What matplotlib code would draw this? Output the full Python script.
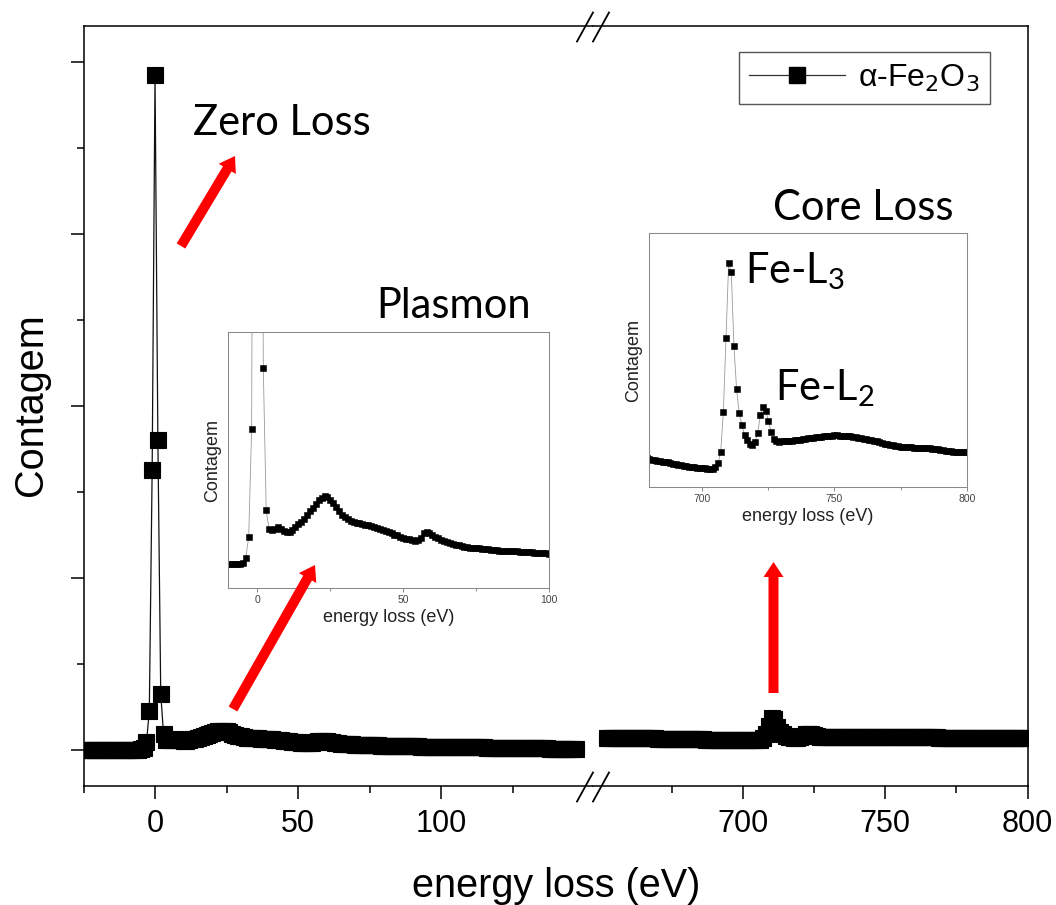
import numpy as np
import matplotlib
matplotlib.use('Agg')
import matplotlib.pyplot as plt
from matplotlib.lines import Line2D
from matplotlib.patches import FancyArrow

plt.rcParams['font.family'] = ['Liberation Sans', 'DejaVu Sans']
plt.rcParams['mathtext.fontset'] = 'custom'
plt.rcParams['mathtext.rm'] = 'Lato'
plt.rcParams['mathtext.it'] = 'Lato:italic'

# baixa perda (zero loss + plasmon), passo de 1 eV
energia_baixa = np.arange(-25, 148)
contagem_baixa = [
    0, 0, 0, 0, 0, 0, 0, 0, 0, 0,
    0, 0, 0, 0, 0, 0, 0, 0, 0,
    0.01, 0.06, 0.23, 0.91, 4.48, 32.6, 78.5, 36.0, 6.5, 1.80, 1.16,
    1.13, 1.18, 1.23, 1.19, 1.12, 1.08, 1.09, 1.15, 1.24, 1.33,
    1.42, 1.52, 1.64, 1.76, 1.88, 2.01, 2.12, 2.21, 2.26, 2.25,
    2.15, 2.04, 1.90, 1.77, 1.65, 1.57, 1.50, 1.44, 1.41, 1.38,
    1.36, 1.34, 1.32, 1.30, 1.28, 1.25, 1.22, 1.19, 1.15, 1.12,
    1.08, 1.04, 0.99, 0.96, 0.92, 0.89, 0.85, 0.83, 0.81, 0.79,
    0.80, 0.89, 1.04, 1.09, 1.05, 0.99, 0.92, 0.88, 0.82, 0.78,
    0.74, 0.71, 0.69, 0.66, 0.64, 0.61, 0.58, 0.57, 0.56, 0.55,
    0.54, 0.53, 0.52, 0.52, 0.50, 0.49, 0.48, 0.47, 0.46, 0.46,
    0.45, 0.45, 0.44, 0.44, 0.43, 0.42, 0.41, 0.41, 0.40, 0.40,
    0.39, 0.39, 0.38, 0.37, 0.37, 0.36,
    0.36, 0.35, 0.35, 0.34, 0.34, 0.33, 0.33, 0.32, 0.32, 0.31,
    0.31, 0.30, 0.30, 0.29, 0.29, 0.28, 0.28, 0.27, 0.27, 0.26,
    0.26, 0.25, 0.25, 0.24, 0.24, 0.23, 0.23, 0.22, 0.22, 0.21,
    0.21, 0.20, 0.20, 0.19, 0.19, 0.18, 0.18, 0.17, 0.17, 0.16,
    0.16, 0.15, 0.15, 0.14, 0.14, 0.13, 0.13,
]

# perda de caroco (bordas L3 e L2 do Fe), passo de 1 eV
energia_caroco = np.arange(652, 801)
contagem_caroco = [
    1.70, 1.69, 1.67, 1.66, 1.64, 1.62, 1.60, 1.58, 1.56, 1.54,
    1.52, 1.50, 1.48, 1.46, 1.44, 1.42, 1.40, 1.38, 1.36, 1.34,
    1.32, 1.30, 1.27, 1.24, 1.21, 1.19, 1.17, 1.15,
    1.12, 1.09, 1.07, 1.05, 1.03, 1.01, 1.00, 0.98, 0.95, 0.92,
    0.90, 0.88, 0.86, 0.84, 0.82, 0.80, 0.79, 0.78, 0.77, 0.76,
    0.75, 0.74, 0.73, 0.72, 0.73, 0.80, 0.95, 1.40, 2.95, 5.85,
    8.80, 8.45, 5.55, 3.85, 2.90, 2.45, 2.05, 1.85, 1.72, 1.68,
    1.78, 2.15, 2.85, 3.17, 3.00, 2.62, 2.18, 1.90, 1.80, 1.79,
    1.80, 1.81, 1.81, 1.82, 1.82, 1.84, 1.86, 1.87, 1.89, 1.91,
    1.93, 1.94, 1.95, 1.96, 1.98, 1.99, 2.00, 2.01, 2.02, 2.03,
    2.04, 2.04, 2.03, 2.03, 2.02, 2.01, 2.00, 1.98, 1.96, 1.94,
    1.92, 1.90, 1.88, 1.86, 1.84, 1.82, 1.80, 1.77, 1.74, 1.72,
    1.70, 1.68, 1.66, 1.64, 1.62, 1.60, 1.59, 1.58, 1.57, 1.57,
    1.56, 1.56, 1.55, 1.55, 1.54, 1.53, 1.53, 1.52, 1.51, 1.50,
    1.48, 1.46, 1.44, 1.42, 1.41, 1.40, 1.39, 1.39, 1.38, 1.38,
    1.37,
]

W, H = 1056, 905


def caixa(x0, y0, x1, y1):
    # converte pixels (origem no topo) para fracao da figura
    return [x0 / W, (H - y1) / H, (x1 - x0) / W, (y1 - y0) / H]


fig = plt.figure(figsize=(W / 100, H / 100), dpi=100)

ax_e = fig.add_axes(caixa(83.5, 26, 593, 786))
ax_d = fig.add_axes(caixa(593, 26, 1027.5, 786))

estilo = dict(color='#111111', lw=0.9, marker='s', ms=11, mfc='black', mec='black', mew=0.8)
ax_e.plot(energia_baixa, contagem_baixa, **estilo)
ax_d.plot(energia_caroco, contagem_caroco, **estilo)

ax_e.set_xlim(-25, 153.1)
ax_e.set_ylim(-4.19, 84.19)
ax_d.set_xlim(647.2, 800)
ax_d.set_ylim(-16.12, 263.57)

ax_e.set_xticks([0, 50, 100])
ax_e.set_xticks([-25, 25, 75, 125], minor=True)
ax_e.set_yticks([0, 20, 40, 60, 80])
ax_e.set_yticks([10, 30, 50, 70], minor=True)
ax_e.set_yticklabels([])
ax_d.set_xticks([700, 750, 800])
ax_d.set_xticks([675, 725, 775], minor=True)
ax_d.set_yticks([])

for ax in (ax_e, ax_d):
    for s in ax.spines.values():
        s.set_linewidth(1.1)
    ax.tick_params(which='major', direction='out', length=9.7, width=1.1, labelsize=22, pad=7)
    ax.tick_params(which='minor', direction='out', length=4.7, width=1.1)
    ax.tick_params(top=False, right=False)
ax_e.spines['right'].set_visible(False)
ax_d.spines['left'].set_visible(False)
ax_d.tick_params(left=False)

leg = ax_d.legend(
    handles=[Line2D([], [], color='#333333', lw=0.9, marker='s', ms=11.5, mfc='black', mec='black')],
    labels=['α-Fe$_2$O$_3$'], loc='upper left',
    bbox_to_anchor=(739 / W, 1 - 52 / H), bbox_transform=fig.transFigure,
    fontsize=23, handlelength=3.0, handletextpad=0.4, borderpad=0.32,
    borderaxespad=0, fancybox=False, framealpha=1)
leg.get_frame().set_edgecolor('#555555')
leg.get_frame().set_linewidth(1.0)
leg.get_texts()[0].set_math_fontfamily('dejavusans')

# insets: mesma contagem com escalas ampliadas
in_baixa = fig.add_axes(caixa(228.3, 331.7, 549, 588.3))
in_caroco = fig.add_axes(caixa(649.3, 232.7, 966.7, 487.3))

estilo_in = dict(color='#9a9a9a', lw=0.6, marker='s', ms=3.7, mfc='black', mec='black', mew=0.4)
in_baixa.plot(energia_baixa, contagem_baixa, **estilo_in)
in_caroco.plot(energia_caroco, contagem_caroco, **estilo_in)

in_baixa.set_xlim(-10, 100)
in_baixa.set_ylim(-0.79, 7.71)
in_baixa.set_xticks([0, 50, 100])
in_baixa.set_xticks([25, 75], minor=True)
in_caroco.set_xlim(680, 800)
in_caroco.set_ylim(0, 10)
in_caroco.set_xticks([700, 750, 800])
in_caroco.set_xticks([725, 775], minor=True)

for ax in (in_baixa, in_caroco):
    ax.set_yticks([])
    for s in ax.spines.values():
        s.set_color('#8a8a8a')
        s.set_linewidth(0.75)
    ax.tick_params(which='major', direction='out', length=3, width=0.7, color='#8a8a8a',
                   labelsize=7.5, labelcolor='#444444', pad=2)
    ax.tick_params(which='minor', direction='out', length=2, width=0.7, color='#8a8a8a')
    ax.set_xlabel('energy loss (eV)', fontsize=13, color='#222222', labelpad=3)
    ax.set_ylabel('Contagem', fontsize=13, color='#222222', labelpad=5)

# camada em pixels para setas, rotulos e marcas de quebra
ov = fig.add_axes([0, 0, 1, 1], zorder=10)
ov.set_xlim(0, W)
ov.set_ylim(H, 0)
ov.axis('off')
ov.patch.set_visible(False)

setas = [((181, 246), (235, 156)), ((233, 709), (315, 565)), ((773.5, 693), (773.5, 562))]
for (x0, y0), (x1, y1) in setas:
    ov.add_patch(FancyArrow(x0, y0, x1 - x0, y1 - y0, width=10, head_width=20, head_length=15,
                            length_includes_head=True, color='#ff0000', lw=0))

rotulo = dict(family='Lato', fontsize=30, ha='left', va='baseline', color='black')
ov.text(193, 135, 'Zero Loss', **rotulo)
ov.text(376, 318, 'Plasmon', **rotulo)
ov.text(773, 220, 'Core Loss', **rotulo)
ov.text(745, 283, 'Fe-L$_3$', **rotulo)
ov.text(775, 400, 'Fe-L$_2$', **rotulo)

ov.text(31, 405, 'Contagem', rotation=90, ha='center', va='center', fontsize=28.5)
ov.text(556, 897, 'energy loss (eV)', ha='center', va='baseline', fontsize=28.5)

for yc in (27, 787):
    for xc in (585, 601):
        ov.plot([xc - 8, xc + 8], [yc + 14.5, yc - 14.5], color='black', lw=1.3)

fig.savefig('out.png', dpi=100)
